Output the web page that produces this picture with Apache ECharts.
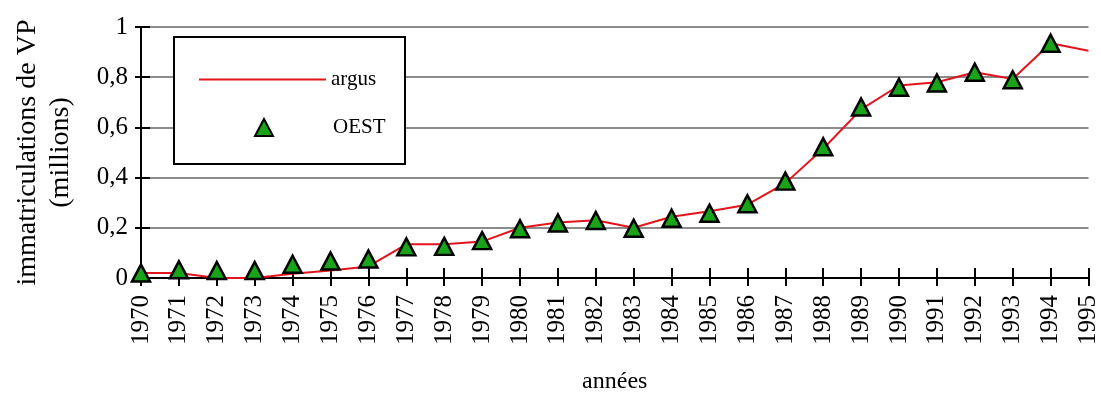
<!DOCTYPE html>
<html><head><meta charset="utf-8">
<script src="https://cdn.jsdelivr.net/npm/echarts@6/dist/echarts.min.js"></script>
<style>html,body{margin:0;padding:0;background:#fff}#c{width:1101px;height:399px}</style>
</head><body><div id="c"></div>
<script>
const years = [1970,1971,1972,1973,1974,1975,1976,1977,1978,1979,1980,1981,1982,1983,1984,1985,1986,1987,1988,1989,1990,1991,1992,1993,1994,1995];
const argus = [0.02,0.02,0.0,0.0,0.017,0.03,0.046,0.134,0.134,0.145,0.2,0.221,0.23,0.2,0.244,0.266,0.292,0.378,0.515,0.672,0.767,0.78,0.82,0.793,0.935,0.905];
const oest  = [0.02,0.033,0.03,0.03,0.055,0.068,0.076,0.124,0.126,0.149,0.196,0.219,0.229,0.198,0.238,0.258,0.296,0.386,0.523,0.681,0.76,0.777,0.82,0.79,0.935,null];
const seriesNames = ['argus','OEST'];
const yAxisTitle = 'immatriculations de VP\n(millions)';
const xAxisTitle = 'années';

const FONT = "'Liberation Serif','Times New Roman',serif";
const chart = echarts.init(document.getElementById('c'), null, {renderer:'canvas'});
const black = '#000';
const red = '#e3141b';
function baseX(extra){return Object.assign({type:'value',min:1970,max:1995,interval:1,gridIndex:0,position:'bottom',splitLine:{show:false}},extra);}
function baseY(extra){return Object.assign({type:'value',min:0,max:1,interval:0.2,gridIndex:0,position:'left'},extra);}
chart.setOption({
  animation:false,
  backgroundColor:'#fff',
  grid:{left:141,right:9,top:27,bottom:119,containLabel:false},
  textStyle:{fontFamily:FONT},
  graphic:[{type:'rect',z:3,shape:{x:174,y:37,width:231,height:127},style:{fill:'#fff',stroke:black,lineWidth:2}}],
  legend:[
    {data:[{name:seriesNames[0],icon:'rect',itemStyle:{color:red}}],selectedMode:false,padding:0,left:199,top:69,itemWidth:127,itemHeight:2,itemGap:6,z:10,
     textStyle:{fontFamily:FONT,fontSize:21,color:black}},
    {data:[seriesNames[1]],selectedMode:false,padding:0,left:254,top:117,itemWidth:18,itemHeight:17,z:10,
     textStyle:{fontFamily:FONT,fontSize:21,color:black,padding:[0,0,0,55]}}
  ],
  xAxis:[
    baseX({name:xAxisTitle,nameLocation:'middle',nameGap:92,nameTextStyle:{fontFamily:FONT,fontSize:24,color:black},
      axisLine:{show:true,lineStyle:{color:black,width:2}},
      axisTick:{show:true,inside:false,length:8,lineStyle:{color:black,width:2}},
      axisLabel:{show:true,rotate:90,margin:17,fontFamily:FONT,fontSize:25,color:black,formatter:v=>String(v)}}),
    baseX({axisLine:{show:false},axisTick:{show:true,inside:true,length:10,lineStyle:{color:black,width:2}},axisLabel:{show:false}})
  ],
  yAxis:[
    baseY({name:yAxisTitle,nameLocation:'middle',nameGap:64,nameRotate:90,
      nameTextStyle:{fontFamily:FONT,fontSize:28,lineHeight:33,color:black,align:'center'},
      axisLine:{show:true,lineStyle:{color:black,width:2}},
      axisTick:{show:true,inside:false,length:6,lineStyle:{color:black,width:2}},
      axisLabel:{show:true,margin:13,fontFamily:FONT,fontSize:25,color:black,formatter:v=>String(Math.round(v*10)/10).replace('.',',')},
      splitLine:{show:true,lineStyle:{color:'#8c8c8c',width:2}}}),
    baseY({axisLine:{show:false},axisTick:{show:true,inside:true,length:9,lineStyle:{color:black,width:2}},axisLabel:{show:false},splitLine:{show:false}})
  ],
  series:[
    {name:seriesNames[0],type:'line',xAxisIndex:0,yAxisIndex:0,data:years.map((y,i)=>[y,argus[i]]),
     symbol:'none',showSymbol:false,lineStyle:{color:red,width:2},itemStyle:{color:red},z:2},
    {name:seriesNames[1],type:'scatter',xAxisIndex:0,yAxisIndex:0,
     data:years.map((y,i)=>[y,oest[i]]).filter(d=>d[1]!==null),
     symbol:'triangle',symbolSize:[18,17],clip:false,
     itemStyle:{color:'#18a318',borderColor:black,borderWidth:2.5,opacity:1},z:3}
  ]
});
</script>
</body></html>
